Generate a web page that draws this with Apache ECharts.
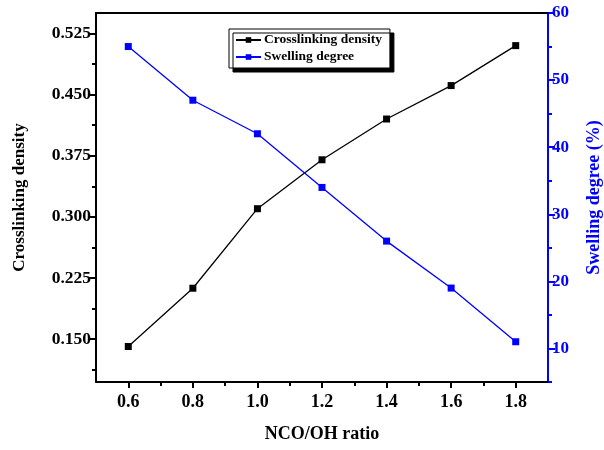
<!DOCTYPE html>
<html>
<head>
<meta charset="utf-8">
<script src="https://cdn.jsdelivr.net/npm/echarts@6/dist/echarts.min.js"></script>
<style>
  html, body { margin: 0; padding: 0; background: #fff; }
  #main { width: 604px; height: 450px; }
</style>
</head>
<body>
<div id="main"></div>
<script>
// 数据
var ratio = [0.6, 0.8, 1.0, 1.2, 1.4, 1.6, 1.8];
var crosslinking = [0.141, 0.2125, 0.310, 0.370, 0.420, 0.461, 0.510];
var swelling = [55, 47, 42, 34, 26, 19, 11];

var xMajor = [0.6, 0.8, 1.0, 1.2, 1.4, 1.6, 1.8];
var xMinor = [0.7, 0.9, 1.1, 1.3, 1.5, 1.7];
var leftMajor = [0.150, 0.225, 0.300, 0.375, 0.450, 0.525];
var leftMinor = [0.1125, 0.1875, 0.2625, 0.3375, 0.4125, 0.4875];
var rightMajor = [10, 20, 30, 40, 50, 60];
var rightMinor = [5, 15, 25, 35, 45, 55];

var font = 'Liberation Serif';
var blue = '#0000ff';

function pairs(ys) {
    return ratio.map(function (x, i) { return [x, ys[i]]; });
}

function minorAxis(min, max, vals, pos, color) {
    return {
        type: 'value', position: pos, min: min, max: max,
        axisLine: { show: false },
        axisLabel: { show: false },
        splitLine: { show: false },
        axisTick: { show: true, length: 4, customValues: vals, lineStyle: { color: color, width: 2 } }
    };
}

var option = {
    backgroundColor: '#fff',
    animation: false,
    grid: { left: 96, right: 56, top: 13, bottom: 68, outerBoundsMode: 'none' },
    legend: {
        orient: 'vertical',
        left: 229, top: 29,
        padding: [4, 8, 4, 6],
        itemGap: 3,
        itemWidth: 25, itemHeight: 7,
        backgroundColor: '#fff',
        borderColor: '#000', borderWidth: 1,
        shadowColor: '#000', shadowBlur: 0, shadowOffsetX: 4, shadowOffsetY: 4,
        textStyle: { fontFamily: font, fontWeight: 'bold', fontSize: 13.5, color: '#000', padding: [0, 0, 0, -2] },
        data: ['Crosslinking density', 'Swelling degree']
    },
    xAxis: [
        {
            type: 'value', position: 'bottom', min: 0.5, max: 1.9,
            name: 'NCO/OH ratio', nameLocation: 'middle', nameGap: 43,
            nameTextStyle: { fontFamily: font, fontWeight: 'bold', fontSize: 18, color: '#000' },
            axisLine: { lineStyle: { color: '#000', width: 2 } },
            axisTick: { length: 6, customValues: xMajor, lineStyle: { width: 2 } },
            axisLabel: { customValues: xMajor, margin: 11, fontFamily: font, fontWeight: 'bold', fontSize: 18, color: '#000',
                formatter: function (v) { return v.toFixed(1); } },
            splitLine: { show: false }
        },
        minorAxis(0.5, 1.9, xMinor, 'bottom', '#000'),
        {
            type: 'value', position: 'top', min: 0.5, max: 1.9,
            axisLine: { lineStyle: { color: '#000', width: 2 } },
            axisTick: { show: false }, axisLabel: { show: false }, splitLine: { show: false }
        }
    ],
    yAxis: [
        {
            type: 'value', position: 'left', min: 0.0975, max: 0.55,
            name: 'Crosslinking density', nameLocation: 'middle', nameGap: 68,
            nameTextStyle: { fontFamily: font, fontWeight: 'bold', fontSize: 17, color: '#000', padding: [0, 0, 0, 0] },
            axisLine: { show: true, lineStyle: { color: '#000', width: 2 } },
            axisTick: { show: true, length: 7, customValues: leftMajor, lineStyle: { width: 2 } },
            axisLabel: { customValues: leftMajor, margin: 5, fontFamily: font, fontWeight: 'bold', fontSize: 17.5, color: '#000',
                formatter: function (v) { return v.toFixed(3); } },
            splitLine: { show: false }
        },
        minorAxis(0.0975, 0.55, leftMinor, 'left', '#000'),
        {
            type: 'value', position: 'right', min: 5, max: 60,
            name: 'Swelling degree (%)', nameLocation: 'middle', nameGap: 37, nameRotate: 90,
            nameTextStyle: { fontFamily: font, fontWeight: 'bold', fontSize: 18, color: blue },
            axisLine: { show: true, lineStyle: { color: blue, width: 2 } },
            axisTick: { show: true, length: 7, customValues: rightMajor, lineStyle: { color: blue, width: 2 } },
            axisLabel: { customValues: rightMajor, margin: 4, fontFamily: font, fontWeight: 'bold', fontSize: 17, color: blue },
            splitLine: { show: false }
        },
        minorAxis(5, 60, rightMinor, 'right', blue)
    ],
    series: [
        {
            name: 'Crosslinking density', type: 'line', xAxisIndex: 0, yAxisIndex: 0,
            symbol: 'rect', symbolSize: 7,
            lineStyle: { color: '#000', width: 1.3 },
            itemStyle: { color: '#000' },
            data: pairs(crosslinking)
        },
        {
            name: 'Swelling degree', type: 'line', xAxisIndex: 0, yAxisIndex: 2,
            symbol: 'rect', symbolSize: 7,
            lineStyle: { color: blue, width: 1.3 },
            itemStyle: { color: blue },
            data: pairs(swelling)
        }
    ]
};

var myChart = echarts.init(document.getElementById('main'));
myChart.setOption(option);
</script>
</body>
</html>
